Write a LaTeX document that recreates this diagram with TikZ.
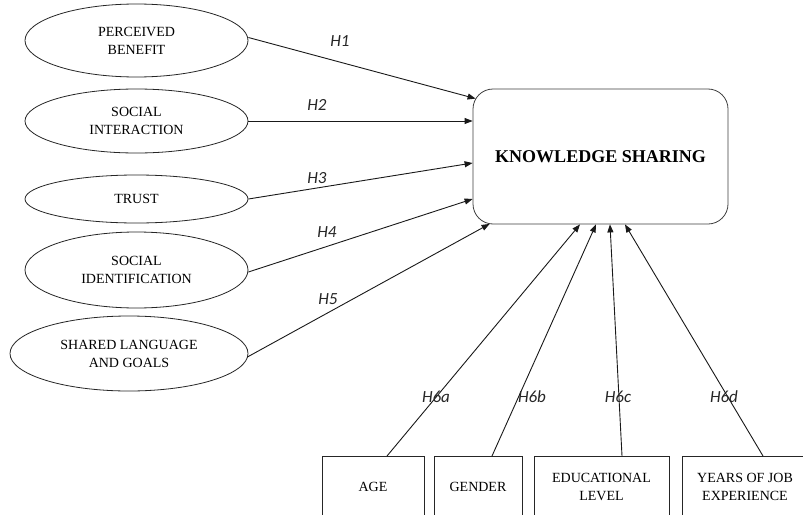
\documentclass[tikz,border=0pt]{standalone}
\usepackage{fontspec}
\setmainfont{Liberation Serif}
\newfontfamily\lblfont{Carlito}
\usetikzlibrary{shapes.geometric,arrows.meta}
\tikzset{
  ell/.style={ellipse, draw=black!85, line width=0.8pt, inner sep=0pt, align=center,
    font=\fontsize{14}{18}\selectfont},
  varbox/.style={rectangle, draw=black!85, line width=0.8pt, inner sep=0pt, align=center,
    minimum height=62pt, font=\fontsize{14}{18}\selectfont},
  conn/.style={line width=0.9pt, black!90, -{Triangle[length=8pt,width=6pt]}},
  hlab/.style={font=\lblfont\itshape\fontsize{17}{17}\selectfont, inner sep=0pt, text=black!85}
}
\begin{document}
\begin{tikzpicture}[x=1pt,y=-1pt]
\clip (0,0) rectangle (803,514);
\fill[white] (0,0) rectangle (803,514);
% central box
\node[draw=black!75, line width=0.8pt, rounded corners=20pt, minimum width=255pt, minimum height=135pt,
  inner sep=0pt, font=\bfseries\fontsize{18}{22}\selectfont] (ks) at (600.5,156.5) {KNOWLEDGE SHARING};
% ellipses
\node[ell, minimum width=223pt, minimum height=73pt] (pb) at (136.5,40.5) {PERCEIVED\\BENEFIT};
\node[ell, minimum width=223pt, minimum height=64pt] (si) at (136.5,121) {SOCIAL\\INTERACTION};
\node[ell, minimum width=223pt, minimum height=48pt] (tr) at (136.5,199) {TRUST};
\node[ell, minimum width=223pt, minimum height=76pt] (sid) at (136.5,270) {SOCIAL\\IDENTIFICATION};
\node[ell, minimum width=238pt, minimum height=75pt] (sl) at (129,353.5) {SHARED LANGUAGE\\AND GOALS};
% bottom boxes
\node[varbox, minimum width=102pt, anchor=north] (age) at (373,456) {AGE};
\node[varbox, minimum width=88pt, anchor=north] (gen) at (478,456) {GENDER};
\node[varbox, minimum width=135pt, anchor=north] (edu) at (601.5,456) {EDUCATIONAL\\LEVEL};
\node[varbox, minimum width=126pt, anchor=north] (yrs) at (745,456) {YEARS OF JOB\\EXPERIENCE};
% arrows from ellipses
\draw[conn] ([yshift=3pt]pb.east) -- ([xshift=3pt,yshift=-10pt]ks.north west);
\draw[conn] (si.east) -- ([yshift=35.5pt]ks.west);
\draw[conn] (tr.east) -- ([yshift=-6.5pt]ks.west);
\draw[conn] ([yshift=-2pt]sid.east) -- ([yshift=-42.5pt]ks.west);
\draw[conn] ([xshift=-1pt,yshift=-3.5pt]sl.east) -- ([xshift=17pt,yshift=0.5pt]ks.south west);
% arrows from boxes
\draw[conn] ([xshift=14pt]age.north) -- ([xshift=-20.5pt]ks.south);
\draw[conn] ([xshift=14pt]gen.north) -- ([xshift=-4.5pt]ks.south);
\draw[conn] ([xshift=20.5pt]edu.north) -- ([xshift=9.5pt]ks.south);
\draw[conn] ([xshift=18pt]yrs.north) -- ([xshift=24.5pt]ks.south);
% labels
\node[hlab] (l1) at (340,41) {H1};
\node[hlab] (l2) at (317,105) {H2};
\node[hlab] (l3) at (317,178) {H3};
\node[hlab] (l4) at (327,232) {H4};
\node[hlab] (l5) at (328,299) {H5};
\node[hlab] (l6a) at (436,397) {H6a};
\node[hlab] (l6b) at (532,397) {H6b};
\node[hlab] (l6c) at (618,397) {H6c};
\node[hlab] (l6d) at (724,397) {H6d};
\end{tikzpicture}
\end{document}
